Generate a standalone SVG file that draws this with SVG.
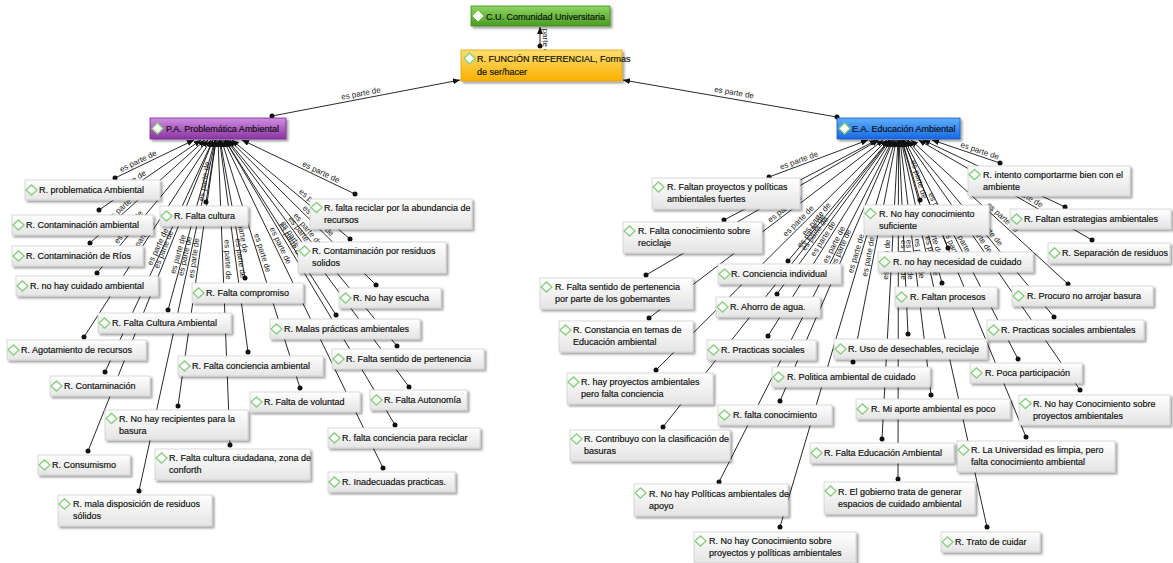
<svg xmlns="http://www.w3.org/2000/svg" width="1173" height="563" viewBox="0 0 1173 563">
<style>
.b{fill:url(#gw);stroke:#cfcfcf;stroke-width:0.8;filter:url(#sh)}
.dm{fill:#fff;stroke:#86cf7e;stroke-width:1.3}
.dw{fill:#fff;stroke:#fff;stroke-width:1}
.t{font-family:"Liberation Sans",Arial,sans-serif;font-size:9px;fill:#111;stroke:#111;stroke-width:0.18}
.c{stroke:#111;stroke-width:0.9;fill:none;marker-start:url(#dot);marker-end:url(#arr)}
.l{font-family:"Liberation Sans",Arial,sans-serif;font-size:8px;fill:#222;text-anchor:middle}
</style>
<defs>
<linearGradient id="gw" x1="0" y1="0" x2="0" y2="1"><stop offset="0" stop-color="#ffffff"/><stop offset="1" stop-color="#e4e4e4"/></linearGradient>
<linearGradient id="gg" x1="0" y1="0" x2="0" y2="1"><stop offset="0" stop-color="#8fd660"/><stop offset="1" stop-color="#4a9c24"/></linearGradient>
<linearGradient id="go" x1="0" y1="0" x2="0" y2="1"><stop offset="0" stop-color="#ffdf70"/><stop offset="1" stop-color="#f8b000"/></linearGradient>
<linearGradient id="gp" x1="0" y1="0" x2="0" y2="1"><stop offset="0" stop-color="#cf8ee0"/><stop offset="1" stop-color="#8b34a3"/></linearGradient>
<linearGradient id="gb" x1="0" y1="0" x2="0" y2="1"><stop offset="0" stop-color="#5fb0ff"/><stop offset="1" stop-color="#1668e0"/></linearGradient>
<filter id="sh" x="-5%" y="-15%" width="115%" height="150%"><feDropShadow dx="2" dy="2" stdDeviation="0.8" flood-color="#000" flood-opacity="0.38"/></filter>
<marker id="arr" markerUnits="userSpaceOnUse" markerWidth="8" markerHeight="7" refX="7" refY="3" orient="auto"><path d="M0,0 L7,3 L0,6 z" fill="#111"/></marker>
<marker id="dot" markerUnits="userSpaceOnUse" markerWidth="6" markerHeight="6" refX="3" refY="3"><circle cx="3" cy="3" r="2.5" fill="#111"/></marker>
</defs>
<rect width="1173" height="563" fill="#fff"/>
<g id="connectors">
<line class="c" x1="540" y1="46" x2="540" y2="27"/>
<text class="l" transform="translate(540 38) rotate(90)" y="-3">es parte de</text>
<line class="c" x1="272" y1="116" x2="460" y2="80"/>
<text class="l" transform="translate(362 99) rotate(-10.8)" y="-3">es parte de</text>
<line class="c" x1="837" y1="117" x2="623" y2="80"/>
<text class="l" transform="translate(733 99) rotate(9.8)" y="-4">es parte de</text>
<line class="c" x1="115" y1="178" x2="194" y2="140"/>
<line class="c" x1="99" y1="210" x2="201" y2="140"/>
<line class="c" x1="90" y1="243" x2="205" y2="140"/>
<line class="c" x1="97" y1="273" x2="208" y2="140"/>
<line class="c" x1="206" y1="202" x2="216" y2="140"/>
<line class="c" x1="245" y1="278" x2="220" y2="140"/>
<line class="c" x1="168" y1="310" x2="215" y2="140"/>
<line class="c" x1="84" y1="337" x2="211" y2="140"/>
<line class="c" x1="105" y1="372" x2="213" y2="140"/>
<line class="c" x1="248" y1="352" x2="219.5" y2="140"/>
<line class="c" x1="178" y1="406" x2="216" y2="140"/>
<line class="c" x1="300" y1="388" x2="221.5" y2="140"/>
<line class="c" x1="88" y1="451" x2="213" y2="140"/>
<line class="c" x1="230" y1="445" x2="218" y2="140"/>
<line class="c" x1="139" y1="491" x2="215.5" y2="140"/>
<line class="c" x1="355" y1="194" x2="242" y2="140"/>
<line class="c" x1="350" y1="239" x2="232" y2="140"/>
<line class="c" x1="376" y1="285" x2="229.5" y2="140"/>
<line class="c" x1="336" y1="315" x2="225" y2="140"/>
<line class="c" x1="397" y1="346" x2="227.5" y2="140"/>
<line class="c" x1="409" y1="387" x2="226.5" y2="140"/>
<line class="c" x1="395" y1="425" x2="225" y2="140"/>
<line class="c" x1="383" y1="468" x2="223.5" y2="140"/>
<text class="l" transform="translate(140.3 165.8) rotate(-25.7)" y="-2.5">es parte de</text>
<text class="l" transform="translate(131.6 187.6) rotate(-34.5)" y="-2.5">es parte de</text>
<text class="l" transform="translate(126.8 210) rotate(-41.8)" y="-2.5">es parte de</text>
<text class="l" transform="translate(132.5 230.4) rotate(-50.2)" y="-2.5">es parte de</text>
<text class="l" transform="translate(209.2 182.2) rotate(-80.8)" y="-2.5">es parte de</text>
<text class="l" transform="translate(237 233.8) rotate(79.7)" y="-2.5">es parte de</text>
<text class="l" transform="translate(183 255.6) rotate(-74.5)" y="-2.5">es parte de</text>
<text class="l" transform="translate(146 240.9) rotate(-57.2)" y="-2.5">es parte de</text>
<text class="l" transform="translate(162.4 248.8) rotate(-65)" y="-2.5">es parte de</text>
<text class="l" transform="translate(235.5 259) rotate(82.3)" y="-2.5">es parte de</text>
<text class="l" transform="translate(199 258.8) rotate(-81.9)" y="-2.5">es parte de</text>
<text class="l" transform="translate(257.7 254.4) rotate(72.4)" y="-2.5">es parte de</text>
<text class="l" transform="translate(168.2 251.3) rotate(-68.1)" y="-2.5">es parte de</text>
<text class="l" transform="translate(222.7 259.9) rotate(87.7)" y="-2.5">es parte de</text>
<text class="l" transform="translate(190 257.2) rotate(-77.7)" y="-2.5">es parte de</text>
<text class="l" transform="translate(318.8 176.7) rotate(25.5)" y="-2.5">es parte de</text>
<text class="l" transform="translate(312.2 207.3) rotate(40)" y="-2.5">es parte de</text>
<text class="l" transform="translate(314.8 224.4) rotate(44.7)" y="-2.5">es parte de</text>
<text class="l" transform="translate(289.3 241.3) rotate(57.6)" y="-2.5">es parte de</text>
<text class="l" transform="translate(303.7 232.7) rotate(50.5)" y="-2.5">es parte de</text>
<text class="l" transform="translate(297.8 236.5) rotate(53.5)" y="-2.5">es parte de</text>
<text class="l" transform="translate(286.5 243.1) rotate(59.2)" y="-2.5">es parte de</text>
<text class="l" transform="translate(276 247.9) rotate(64.1)" y="-2.5">es parte de</text>
<line class="c" x1="1000" y1="163" x2="932" y2="140"/>
<line class="c" x1="1065" y1="207" x2="923" y2="140"/>
<line class="c" x1="1092" y1="240" x2="918.5" y2="140"/>
<line class="c" x1="920" y1="200" x2="902" y2="140"/>
<line class="c" x1="948" y1="248" x2="903.3" y2="140"/>
<line class="c" x1="1068" y1="284" x2="911" y2="140"/>
<line class="c" x1="942" y1="283" x2="901.7" y2="140"/>
<line class="c" x1="1054" y1="317" x2="908" y2="140"/>
<line class="c" x1="908" y1="334" x2="899" y2="140"/>
<line class="c" x1="1018" y1="359" x2="904.5" y2="140"/>
<line class="c" x1="853" y1="362" x2="896.3" y2="140"/>
<line class="c" x1="1080" y1="390" x2="906.5" y2="140"/>
<line class="c" x1="931" y1="395" x2="900" y2="140"/>
<line class="c" x1="780" y1="401" x2="893.5" y2="140"/>
<line class="c" x1="1026" y1="437" x2="903.3" y2="140"/>
<line class="c" x1="882" y1="439" x2="898" y2="140"/>
<line class="c" x1="898" y1="479" x2="898.5" y2="140"/>
<line class="c" x1="987" y1="527" x2="901" y2="140"/>
<line class="c" x1="769" y1="177" x2="868" y2="140"/>
<line class="c" x1="724" y1="220" x2="876.6" y2="140"/>
<line class="c" x1="788" y1="261" x2="889" y2="140"/>
<line class="c" x1="646" y1="275" x2="878.7" y2="140"/>
<line class="c" x1="777" y1="294" x2="890" y2="140"/>
<line class="c" x1="649" y1="318" x2="883.4" y2="140"/>
<line class="c" x1="768" y1="336" x2="891.3" y2="140"/>
<line class="c" x1="656" y1="370" x2="887" y2="140"/>
<line class="c" x1="663" y1="427" x2="889.4" y2="140"/>
<line class="c" x1="719" y1="482" x2="892.7" y2="140"/>
<line class="c" x1="780" y1="527" x2="895.1" y2="140"/>
<text class="l" transform="translate(978.2 155.6) rotate(18.7)" y="-2.5">es parte de</text>
<text class="l" transform="translate(1019.6 185.6) rotate(25.3)" y="-2.5">es parte de</text>
<text class="l" transform="translate(1022.4 199.9) rotate(30)" y="-2.5">es parte de</text>
<text class="l" transform="translate(914.2 180.8) rotate(73.3)" y="-2.5">es parte de</text>
<text class="l" transform="translate(933.7 213.4) rotate(67.5)" y="-2.5">es parte de</text>
<text class="l" transform="translate(999.4 221.1) rotate(42.5)" y="-2.5">es parte de</text>
<text class="l" transform="translate(929.1 237.2) rotate(74.3)" y="-2.5">es parte de</text>
<text class="l" transform="translate(984.4 232.6) rotate(50.5)" y="-2.5">es parte de</text>
<text class="l" transform="translate(904.6 259.9) rotate(87.3)" y="-2.5">es parte de</text>
<text class="l" transform="translate(959.7 246.5) rotate(62.6)" y="-2.5">es parte de</text>
<text class="l" transform="translate(873.3 257.8) rotate(-79)" y="-2.5">es parte de</text>
<text class="l" transform="translate(974.9 238.6) rotate(55.2)" y="-2.5">es parte de</text>
<text class="l" transform="translate(914.5 259.1) rotate(83.1)" y="-2.5">es parte de</text>
<text class="l" transform="translate(845.6 250) rotate(-66.5)" y="-2.5">es parte de</text>
<text class="l" transform="translate(949.1 250.9) rotate(67.6)" y="-2.5">es parte de</text>
<text class="l" transform="translate(891.6 259.8) rotate(-86.9)" y="-2.5">es parte de</text>
<text class="l" transform="translate(898.3 260) rotate(90)" y="-2.5">es parte de</text>
<text class="l" transform="translate(927 257.1) rotate(77.5)" y="-2.5">es parte de</text>
<text class="l" transform="translate(800.7 165.2) rotate(-20.5)" y="-2.5">es parte de</text>
<text class="l" transform="translate(770.3 195.7) rotate(-27.7)" y="-2.5">es parte de</text>
<text class="l" transform="translate(820.3 222.3) rotate(-50.1)" y="-2.5">es parte de</text>
<text class="l" transform="translate(774.9 200.2) rotate(-30.1)" y="-2.5">es parte de</text>
<text class="l" transform="translate(819 236.7) rotate(-53.7)" y="-2.5">es parte de</text>
<text class="l" transform="translate(787.8 212.6) rotate(-37.2)" y="-2.5">es parte de</text>
<text class="l" transform="translate(827.4 241.5) rotate(-57.8)" y="-2.5">es parte de</text>
<text class="l" transform="translate(802 224.6) rotate(-44.9)" y="-2.5">es parte de</text>
<text class="l" transform="translate(815.1 234.2) rotate(-51.7)" y="-2.5">es parte de</text>
<text class="l" transform="translate(838.4 247) rotate(-63.1)" y="-2.5">es parte de</text>
<text class="l" transform="translate(860.9 255) rotate(-73.4)" y="-2.5">es parte de</text>
</g>
<g id="cu"><rect x="471" y="6" width="139" height="20" fill="url(#gg)" stroke="#3f8a1e" stroke-width="0.8" filter="url(#sh)"/><path class="dw" d="M473,16 l5,-5 l5,5 l-5,5z"/><text class="t" x="486" y="19.5">C.U. Comunidad Universitaria</text></g>
<g id="funcion"><rect x="461" y="50" width="161" height="31" fill="url(#go)" stroke="#e0a000" stroke-width="0.8" filter="url(#sh)"/><path class="dm" d="M464,58.5 l5.5,-5.5 l5.5,5.5 l-5.5,5.5z"/><text class="t" x="477" y="62">R. FUNCIÓN REFERENCIAL, Formas</text><text class="t" x="477" y="74.5">de ser/hacer</text></g>
<g id="pa"><rect x="150" y="118" width="136" height="21" fill="url(#gp)" stroke="#7a2a90" stroke-width="0.8" filter="url(#sh)"/><path class="dm" d="M152,128.5 l5.5,-5.5 l5.5,5.5 l-5.5,5.5z"/><text class="t" x="166" y="132">P.A. Problemática Ambiental</text></g>
<g id="ea"><rect x="837" y="118" width="123" height="21" fill="url(#gb)" stroke="#1458c0" stroke-width="0.8" filter="url(#sh)"/><path class="dm" d="M839,128.5 l5.5,-5.5 l5.5,5.5 l-5.5,5.5z"/><text class="t" x="852" y="132">E.A. Educación Ambiental</text></g>
<g id="pa1"><rect class="b" x="25" y="180" width="135" height="20"/><path class="dm" d="M26,190 l5.5,-5 l5.5,5 l-5.5,5z"/><text class="t" x="39" y="193.3">R. problematica Ambiental</text></g>
<g id="pa2"><rect class="b" x="12" y="215" width="141" height="20"/><path class="dm" d="M13,225 l5.5,-5 l5.5,5 l-5.5,5z"/><text class="t" x="26" y="228.3">R. Contaminación ambiental</text></g>
<g id="pa3"><rect class="b" x="12" y="246" width="131" height="20"/><path class="dm" d="M13,256 l5.5,-5 l5.5,5 l-5.5,5z"/><text class="t" x="26" y="259.3">R. Contaminación de Ríos</text></g>
<g id="pa4"><rect class="b" x="16" y="276" width="142" height="20"/><path class="dm" d="M17,286 l5.5,-5 l5.5,5 l-5.5,5z"/><text class="t" x="30" y="289.3">R. no hay cuidado ambiental</text></g>
<g id="pa5"><rect class="b" x="160" y="206" width="88" height="20"/><path class="dm" d="M161,216 l5.5,-5 l5.5,5 l-5.5,5z"/><text class="t" x="174" y="219.3">R. Falta cultura</text></g>
<g id="pa6"><rect class="b" x="192" y="283" width="111" height="20"/><path class="dm" d="M193,293 l5.5,-5 l5.5,5 l-5.5,5z"/><text class="t" x="206" y="296.3">R. Falta compromiso</text></g>
<g id="pa7"><rect class="b" x="98" y="313" width="133" height="20"/><path class="dm" d="M99,323 l5.5,-5 l5.5,5 l-5.5,5z"/><text class="t" x="112" y="326.3">R. Falta Cultura Ambiental</text></g>
<g id="pa8"><rect class="b" x="7" y="340" width="139" height="20"/><path class="dm" d="M8,350 l5.5,-5 l5.5,5 l-5.5,5z"/><text class="t" x="21" y="353.3">R. Agotamiento de recursos</text></g>
<g id="pa9"><rect class="b" x="50" y="376" width="100" height="20"/><path class="dm" d="M51,386 l5.5,-5 l5.5,5 l-5.5,5z"/><text class="t" x="64" y="389.3">R. Contaminación</text></g>
<g id="pa10"><rect class="b" x="178" y="356" width="145" height="20"/><path class="dm" d="M179,366 l5.5,-5 l5.5,5 l-5.5,5z"/><text class="t" x="192" y="369.3">R. Falta conciencia ambiental</text></g>
<g id="pa11"><rect class="b" x="105" y="410" width="143" height="30"/><path class="dm" d="M106,418.5 l5.5,-5 l5.5,5 l-5.5,5z"/><text class="t" x="119" y="421.7">R. No hay recipientes para la</text><text class="t" x="119" y="433.5">basura</text></g>
<g id="pa12"><rect class="b" x="250" y="392" width="110" height="20"/><path class="dm" d="M251,402 l5.5,-5 l5.5,5 l-5.5,5z"/><text class="t" x="264" y="405.3">R. Falta de voluntad</text></g>
<g id="pa13"><rect class="b" x="38" y="455" width="92" height="20"/><path class="dm" d="M39,465 l5.5,-5 l5.5,5 l-5.5,5z"/><text class="t" x="52" y="468.3">R. Consumismo</text></g>
<g id="pa14"><rect class="b" x="155" y="449" width="155" height="31"/><path class="dm" d="M156,458 l5.5,-5 l5.5,5 l-5.5,5z"/><text class="t" x="169" y="461.2">R. Falta cultura ciudadana, zona de</text><text class="t" x="169" y="473">conforth</text></g>
<g id="pa15"><rect class="b" x="58" y="495" width="154" height="31"/><path class="dm" d="M59,504 l5.5,-5 l5.5,5 l-5.5,5z"/><text class="t" x="73" y="507.2">R. mala disposición de residuos</text><text class="t" x="73" y="519">sólidos</text></g>
<g id="pa16"><rect class="b" x="310" y="199" width="162" height="30"/><path class="dm" d="M311,207.5 l5.5,-5 l5.5,5 l-5.5,5z"/><text class="t" x="324" y="210.7">R. falta reciclar por la abundancia de</text><text class="t" x="324" y="222.5">recursos</text></g>
<g id="pa17"><rect class="b" x="298" y="242" width="148" height="31"/><path class="dm" d="M299,251 l5.5,-5 l5.5,5 l-5.5,5z"/><text class="t" x="312" y="254.2">R. Contaminación por residuos</text><text class="t" x="312" y="266">solidos</text></g>
<g id="pa18"><rect class="b" x="339" y="288" width="102" height="20"/><path class="dm" d="M340,298 l5.5,-5 l5.5,5 l-5.5,5z"/><text class="t" x="353" y="301.3">R. No hay escucha</text></g>
<g id="pa19"><rect class="b" x="270" y="319" width="150" height="20"/><path class="dm" d="M271,329 l5.5,-5 l5.5,5 l-5.5,5z"/><text class="t" x="284" y="332.3">R. Malas prácticas ambientales</text></g>
<g id="pa20"><rect class="b" x="332" y="349" width="152" height="20"/><path class="dm" d="M333,359 l5.5,-5 l5.5,5 l-5.5,5z"/><text class="t" x="346" y="362.3">R. Falta sentido de pertenencia</text></g>
<g id="pa21"><rect class="b" x="370" y="390" width="97" height="20"/><path class="dm" d="M371,400 l5.5,-5 l5.5,5 l-5.5,5z"/><text class="t" x="384" y="403.3">R. Falta Autonomía</text></g>
<g id="pa22"><rect class="b" x="328" y="428" width="152" height="20"/><path class="dm" d="M329,438 l5.5,-5 l5.5,5 l-5.5,5z"/><text class="t" x="342" y="441.3">R. falta conciencia para reciclar</text></g>
<g id="pa23"><rect class="b" x="328" y="472" width="127" height="20"/><path class="dm" d="M329,482 l5.5,-5 l5.5,5 l-5.5,5z"/><text class="t" x="342" y="485.3">R. Inadecuadas practicas.</text></g>
<g id="ea1"><rect class="b" x="968" y="166" width="162" height="30"/><path class="dm" d="M969,174.5 l5.5,-5 l5.5,5 l-5.5,5z"/><text class="t" x="983" y="177.7">R. intento comportarme bien con el</text><text class="t" x="983" y="189.5">ambiente</text></g>
<g id="ea2"><rect class="b" x="1010" y="209" width="161" height="20"/><path class="dm" d="M1011,219 l5.5,-5 l5.5,5 l-5.5,5z"/><text class="t" x="1024" y="222.3">R. Faltan estrategias ambientales</text></g>
<g id="ea3"><rect class="b" x="1048" y="243" width="122" height="20"/><path class="dm" d="M1049,253 l5.5,-5 l5.5,5 l-5.5,5z"/><text class="t" x="1062" y="256.3">R. Separación de residuos</text></g>
<g id="ea4"><rect class="b" x="864" y="205" width="125" height="30"/><path class="dm" d="M865,213.5 l5.5,-5 l5.5,5 l-5.5,5z"/><text class="t" x="879" y="216.7">R. No hay conocimiento</text><text class="t" x="879" y="228.5">suficiente</text></g>
<g id="ea5"><rect class="b" x="878" y="252" width="155" height="20"/><path class="dm" d="M879,262 l5.5,-5 l5.5,5 l-5.5,5z"/><text class="t" x="893" y="265.3">R. no hay necesidad de cuidado</text></g>
<g id="ea6"><rect class="b" x="1012" y="286" width="141" height="20"/><path class="dm" d="M1013,296 l5.5,-5 l5.5,5 l-5.5,5z"/><text class="t" x="1027" y="299.3">R. Procuro no arrojar basura</text></g>
<g id="ea7"><rect class="b" x="895" y="287" width="102" height="20"/><path class="dm" d="M896,297 l5.5,-5 l5.5,5 l-5.5,5z"/><text class="t" x="910" y="300.3">R. Faltan procesos</text></g>
<g id="ea8"><rect class="b" x="987" y="320" width="157" height="20"/><path class="dm" d="M988,330 l5.5,-5 l5.5,5 l-5.5,5z"/><text class="t" x="1001" y="333.3">R. Practicas sociales ambientales</text></g>
<g id="ea9"><rect class="b" x="834" y="339" width="153" height="20"/><path class="dm" d="M835,349 l5.5,-5 l5.5,5 l-5.5,5z"/><text class="t" x="848" y="352.3">R. Uso de desechables, reciclaje</text></g>
<g id="ea10"><rect class="b" x="970" y="363" width="112" height="20"/><path class="dm" d="M971,373 l5.5,-5 l5.5,5 l-5.5,5z"/><text class="t" x="985" y="376.3">R. Poca participación</text></g>
<g id="ea11"><rect class="b" x="772" y="367" width="158" height="20"/><path class="dm" d="M773,377 l5.5,-5 l5.5,5 l-5.5,5z"/><text class="t" x="787" y="380.3">R. Politica ambiental de cuidado</text></g>
<g id="ea12"><rect class="b" x="1019" y="395" width="151" height="30"/><path class="dm" d="M1020,403.5 l5.5,-5 l5.5,5 l-5.5,5z"/><text class="t" x="1033" y="406.7">R. No hay Conocimiento sobre</text><text class="t" x="1033" y="418.5">proyectos ambientales</text></g>
<g id="ea13"><rect class="b" x="856" y="399" width="154" height="20"/><path class="dm" d="M857,409 l5.5,-5 l5.5,5 l-5.5,5z"/><text class="t" x="871" y="412.3">R. Mi aporte ambiental es poco</text></g>
<g id="ea14"><rect class="b" x="718" y="405" width="114" height="20"/><path class="dm" d="M719,415 l5.5,-5 l5.5,5 l-5.5,5z"/><text class="t" x="733" y="418.3">R. falta conocimiento</text></g>
<g id="ea15"><rect class="b" x="957" y="441" width="158" height="31"/><path class="dm" d="M958,450 l5.5,-5 l5.5,5 l-5.5,5z"/><text class="t" x="971" y="453.2">R. La Universidad es limpia, pero</text><text class="t" x="971" y="465">falta conocimiento ambiental</text></g>
<g id="ea16"><rect class="b" x="810" y="443" width="144" height="20"/><path class="dm" d="M811,453 l5.5,-5 l5.5,5 l-5.5,5z"/><text class="t" x="824" y="456.3">R. Falta Educación Ambiental</text></g>
<g id="ea17"><rect class="b" x="824" y="482" width="151" height="32"/><path class="dm" d="M825,491 l5.5,-5 l5.5,5 l-5.5,5z"/><text class="t" x="838" y="494.5">R. El gobierno trata de generar</text><text class="t" x="838" y="506.5">espacios de cuidado ambiental</text></g>
<g id="ea18"><rect class="b" x="941" y="532" width="99" height="20"/><path class="dm" d="M942,542 l5.5,-5 l5.5,5 l-5.5,5z"/><text class="t" x="955" y="545.3">R. Trato de cuidar</text></g>
<g id="ea19"><rect class="b" x="652" y="178" width="148" height="31"/><path class="dm" d="M653,187 l5.5,-5 l5.5,5 l-5.5,5z"/><text class="t" x="667" y="190.2">R. Faltan proyectos y políticas</text><text class="t" x="667" y="202">ambientales fuertes</text></g>
<g id="ea20"><rect class="b" x="623" y="222" width="139" height="31"/><path class="dm" d="M624,231 l5.5,-5 l5.5,5 l-5.5,5z"/><text class="t" x="638" y="234.2">R. Falta conocimiento sobre</text><text class="t" x="638" y="246">reciclaje</text></g>
<g id="ea21"><rect class="b" x="718" y="264" width="123" height="20"/><path class="dm" d="M719,274 l5.5,-5 l5.5,5 l-5.5,5z"/><text class="t" x="731" y="277.3">R. Conciencia individual</text></g>
<g id="ea22"><rect class="b" x="540" y="278" width="153" height="31"/><path class="dm" d="M541,287 l5.5,-5 l5.5,5 l-5.5,5z"/><text class="t" x="555" y="290.2">R. Falta sentido de pertenencia</text><text class="t" x="555" y="302">por parte de los gobernantes</text></g>
<g id="ea23"><rect class="b" x="716" y="297" width="104" height="20"/><path class="dm" d="M717,307 l5.5,-5 l5.5,5 l-5.5,5z"/><text class="t" x="730" y="310.3">R. Ahorro de agua.</text></g>
<g id="ea24"><rect class="b" x="559" y="321" width="134" height="31"/><path class="dm" d="M560,330 l5.5,-5 l5.5,5 l-5.5,5z"/><text class="t" x="573" y="333.2">R. Constancia en temas de</text><text class="t" x="573" y="345">Educación ambiental</text></g>
<g id="ea25"><rect class="b" x="707" y="340" width="109" height="20"/><path class="dm" d="M708,350 l5.5,-5 l5.5,5 l-5.5,5z"/><text class="t" x="721" y="353.3">R. Practicas sociales</text></g>
<g id="ea26"><rect class="b" x="567" y="373" width="146" height="31"/><path class="dm" d="M568,382 l5.5,-5 l5.5,5 l-5.5,5z"/><text class="t" x="581" y="385.2">R. hay proyectos ambientales</text><text class="t" x="581" y="397">pero falta conciencia</text></g>
<g id="ea27"><rect class="b" x="570" y="430" width="160" height="31"/><path class="dm" d="M571,439 l5.5,-5 l5.5,5 l-5.5,5z"/><text class="t" x="584" y="442.2">R. Contribuyo con la clasificación de</text><text class="t" x="584" y="454">basuras</text></g>
<g id="ea28"><rect class="b" x="634" y="484" width="154" height="32"/><path class="dm" d="M635,493 l5.5,-5 l5.5,5 l-5.5,5z"/><text class="t" x="649" y="496.5">R. No hay Políticas ambientales de</text><text class="t" x="649" y="508.5">apoyo</text></g>
<g id="ea29"><rect class="b" x="694" y="532" width="162" height="31"/><path class="dm" d="M695,541 l5.5,-5 l5.5,5 l-5.5,5z"/><text class="t" x="709" y="544.2">R. No hay Conocimiento sobre</text><text class="t" x="709" y="556">proyectos y políticas ambientales</text></g>
</svg>
